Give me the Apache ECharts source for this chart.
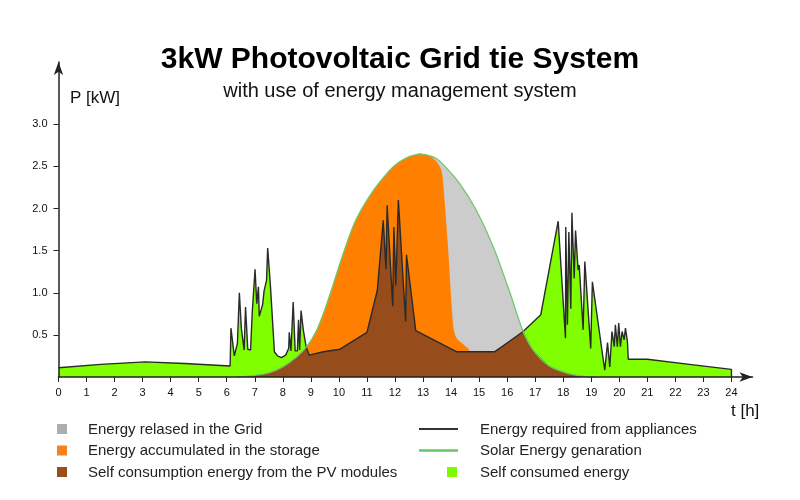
<!DOCTYPE html>
<html>
<head>
<meta charset="utf-8">
<title>3kW Photovoltaic Grid tie System</title>
<script src="https://cdn.jsdelivr.net/npm/echarts@6/dist/echarts.min.js"></script>
<style>
  html, body { margin: 0; padding: 0; background: #fff; }
  #chart { width: 800px; height: 500px; }
</style>
</head>
<body>
<div id="chart"></div>
<script>
// axis ticks
const hourTicks = [0, 1, 2, 3, 4, 5, 6, 7, 8, 9, 10, 11, 12, 13, 14, 15, 16, 17, 18, 19, 20, 21, 22, 23, 24]
const powerTicks = [0.5, 1.0, 1.5, 2.0, 2.5, 3.0]

// [hour, kW]
const solarGeneration = [
  [6.4, 0], [7, 0.02], [7.5, 0.05], [8, 0.12], [8.5, 0.24], [8.85, 0.36], [9.2, 0.55],
  [9.5, 0.8], [9.8, 1.1], [10.15, 1.46], [10.6, 1.86], [11.2, 2.2], [11.8, 2.45],
  [12.1, 2.54], [12.4, 2.6], [12.65, 2.63], [12.9, 2.65], [13.2, 2.63], [13.45, 2.6],
  [13.7, 2.53], [14.3, 2.3], [14.9, 1.98], [15.5, 1.55], [16.1, 1.0], [16.57, 0.54],
  [16.93, 0.32], [17.5, 0.13], [18.1, 0.05], [18.7, 0.01], [19.2, 0]
]

const applianceDemand = [
  [0, 0.11], [1.5, 0.15], [3.1, 0.18], [4.5, 0.16], [6.12, 0.13], [6.15, 0.58], [6.27, 0.25],
  [6.38, 0.4], [6.45, 1.0], [6.52, 0.58], [6.57, 0.58], [6.62, 0.32], [6.67, 0.83],
  [6.75, 0.33], [6.85, 0.32], [6.91, 0.77], [6.98, 0.79], [7.01, 1.28], [7.07, 0.87],
  [7.13, 1.07], [7.16, 0.72], [7.22, 0.74], [7.28, 0.86], [7.33, 1.02], [7.42, 1.15],
  [7.46, 1.53], [7.56, 1.07], [7.7, 0.3], [7.81, 0.25], [7.95, 0.23], [8.1, 0.26],
  [8.21, 0.34], [8.23, 0.53], [8.29, 0.31], [8.37, 0.89], [8.44, 0.31], [8.52, 0.31],
  [8.56, 0.68], [8.6, 0.32], [8.65, 0.79], [8.73, 0.56], [8.83, 0.36], [8.94, 0.26],
  [9.44, 0.3], [10.04, 0.33], [11.0, 0.53], [11.37, 1.03], [11.58, 1.86], [11.68, 1.28],
  [11.72, 2.04], [11.92, 0.84], [11.96, 1.78], [12.03, 1.09], [12.12, 2.1], [12.38, 0.66],
  [12.41, 1.45], [12.74, 0.55], [13.5, 0.42], [14.19, 0.3], [15.56, 0.3], [16.57, 0.54],
  [17.2, 0.74], [17.82, 1.85], [18.08, 0.46], [18.09, 1.78], [18.15, 0.62], [18.2, 1.72],
  [18.27, 0.81], [18.31, 1.95], [18.39, 1.17], [18.44, 1.74], [18.53, 1.27], [18.57, 1.33],
  [18.71, 0.56], [18.77, 1.37], [18.98, 0.34], [19.04, 1.13], [19.48, 0.08], [19.58, 0.41],
  [19.66, 0.12], [19.74, 0.54], [19.82, 0.36], [19.86, 0.62], [19.93, 0.36], [19.98, 0.64],
  [20.04, 0.36], [20.1, 0.54], [20.17, 0.44], [20.22, 0.58], [20.29, 0.42], [20.32, 0.21],
  [21, 0.21], [22.5, 0.15], [24, 0.09], [24, 0]
]

// top edge of the orange part: follows the solar curve, then drops where export to grid starts
const storageEdge = [
  [6.4, 0], [7, 0.02], [7.5, 0.05], [8, 0.12], [8.5, 0.24], [8.85, 0.36], [9.2, 0.55],
  [9.5, 0.8], [9.8, 1.1], [10.15, 1.46], [10.6, 1.86], [11.2, 2.2], [11.8, 2.45],
  [12.1, 2.54], [12.4, 2.6], [12.65, 2.63], [12.9, 2.65], [13.2, 2.63], [13.42, 2.58],
  [13.56, 2.52], [13.66, 2.45], [13.72, 2.3], [13.9, 1.5], [14.08, 0.6], [14.2, 0.46],
  [14.43, 0.39], [14.67, 0.3], [14.68, 0]
]

const legendLeft = ['Energy relased in the Grid', 'Energy accumulated in the storage', 'Self consumption energy from the PV modules']
const legendRight = ['Energy required from appliances', 'Solar Energy genaration', 'Self consumed energy']

// linear read-out of a polyline at x
const valueAt = (pts, x) => {
  if (x <= pts[0][0]) return pts[0][1]
  for (let i = 1; i < pts.length; i++) {
    if (x <= pts[i][0]) {
      const [x0, y0] = pts[i - 1]
      const [x1, y1] = pts[i]
      if (x1 === x0) return y1
      return y0 + (y1 - y0) * (x - x0) / (x1 - x0)
    }
  }
  return pts[pts.length - 1][1]
}

// brown part = lower of generation and demand
const buildSelfUse = () => {
  const start = solarGeneration[0][0]
  const end = solarGeneration[solarGeneration.length - 1][0]
  const xs = [...new Set([...solarGeneration, ...applianceDemand].map(p => p[0]))]
    .filter(x => x >= start && x <= end)
    .sort((a, b) => a - b)
  const out = []
  xs.forEach((x, i) => {
    const s = valueAt(solarGeneration, x)
    const d = valueAt(applianceDemand, x)
    if (i > 0) {
      const xp = xs[i - 1]
      const sp = valueAt(solarGeneration, xp)
      const dp = valueAt(applianceDemand, xp)
      if ((sp - dp) * (s - d) < 0) {
        const t = (sp - dp) / ((sp - dp) - (s - d))
        out.push([xp + t * (x - xp), sp + t * (s - sp)])
      }
    }
    out.push([x, Math.min(s, d)])
  })
  return out
}
const selfUse = buildSelfUse()

const FONT = 'Liberation Sans'

const areaSeries = (name, data, color, z, smooth) => ({
  name,
  type: 'line',
  data,
  z,
  smooth: smooth || false,
  showSymbol: false,
  silent: true,
  lineStyle: { width: 0, opacity: 0 },
  areaStyle: { color, opacity: 1 },
  emphasis: { disabled: true }
})

const legendColors = {
  left: ['#adadad', '#f58220', '#9a4f1f'],
  rightSquare: '#7cfc00'
}
const rowY = [429, 450.5, 472]

const legendGraphics = []
legendLeft.forEach((label, i) => {
  legendGraphics.push({
    type: 'rect', left: 57, top: rowY[i] - 5,
    shape: { width: 10, height: 10 },
    style: { fill: legendColors.left[i] }
  })
  legendGraphics.push({
    type: 'text', left: 88, top: rowY[i] - 7,
    style: { text: label, font: `15px "${FONT}"`, fill: '#222' }
  })
})
legendGraphics.push(
  { type: 'line', shape: { x1: 419, y1: rowY[0], x2: 458, y2: rowY[0] }, style: { stroke: '#333', lineWidth: 2 } },
  { type: 'line', shape: { x1: 419, y1: rowY[1], x2: 458, y2: rowY[1] }, style: { stroke: '#66c566', lineWidth: 2.5 } },
  { type: 'rect', left: 447, top: rowY[2] - 5, shape: { width: 10, height: 10 }, style: { fill: legendColors.rightSquare } }
)
legendRight.forEach((label, i) => {
  legendGraphics.push({
    type: 'text', left: 480, top: rowY[i] - 7,
    style: { text: label, font: `15px "${FONT}"`, fill: '#222' }
  })
})

const chart = echarts.init(document.getElementById('chart'))
chart.setOption({
  animation: false,
  backgroundColor: '#fff',
  textStyle: { fontFamily: FONT },
  title: [
    {
      text: '3kW Photovoltaic Grid tie System',
      left: 'center', top: 40,
      textStyle: { fontSize: 30, fontWeight: 'bold', color: '#000', fontFamily: FONT }
    },
    {
      text: 'with use of energy management system',
      left: 'center', top: 76,
      textStyle: { fontSize: 20, fontWeight: 'normal', color: '#111', fontFamily: FONT }
    }
  ],
  grid: { left: 58.5, right: 47.5, top: 62, bottom: 123 },
  xAxis: {
    type: 'value',
    min: 0,
    max: 24.75,
    z: 10,
    splitLine: { show: false },
    axisLine: {
      lineStyle: { color: '#222', width: 1.5 },
      symbol: ['none', 'arrow'],
      symbolSize: [7, 13]
    },
    axisTick: { customValues: hourTicks, length: 5, lineStyle: { color: '#222' } },
    axisLabel: { customValues: hourTicks, color: '#111', fontSize: 11, margin: 10 }
  },
  yAxis: {
    type: 'value',
    min: 0,
    max: 3.74,
    z: 10,
    splitLine: { show: false },
    axisLine: {
      show: true,
      lineStyle: { color: '#222', width: 1.5 },
      symbol: ['none', 'arrow'],
      symbolSize: [7, 13]
    },
    axisTick: { show: true, customValues: powerTicks, length: 5, lineStyle: { color: '#222' } },
    axisLabel: {
      customValues: powerTicks, color: '#111', fontSize: 11, margin: 11,
      formatter: v => v.toFixed(1)
    }
  },
  graphic: [
    { type: 'text', left: 70, top: 90, style: { text: 'P [kW]', font: `17px "${FONT}"`, fill: '#111' } },
    { type: 'text', left: 731, top: 403, style: { text: 't [h]', font: `17px "${FONT}"`, fill: '#111' } },
    ...legendGraphics
  ],
  series: [
    areaSeries('Energy relased in the Grid', solarGeneration, '#cccccc', 1, 0.3),
    areaSeries('Energy accumulated in the storage', storageEdge, '#ff8000', 2, 0.3),
    areaSeries('Self consumed energy', applianceDemand, '#80ff00', 3),
    areaSeries('Self consumption energy from the PV modules', selfUse, '#964d1b', 4),
    {
      name: 'Energy required from appliances',
      type: 'line',
      data: applianceDemand,
      z: 5,
      showSymbol: false,
      silent: true,
      lineStyle: { color: '#2a2a2a', width: 1.4 },
      emphasis: { disabled: true }
    },
    {
      name: 'Solar Energy genaration',
      type: 'line',
      data: solarGeneration,
      z: 6,
      smooth: 0.3,
      showSymbol: false,
      silent: true,
      lineStyle: { color: '#6cc86c', width: 1.3 },
      emphasis: { disabled: true }
    }
  ]
})
</script>
</body>
</html>
